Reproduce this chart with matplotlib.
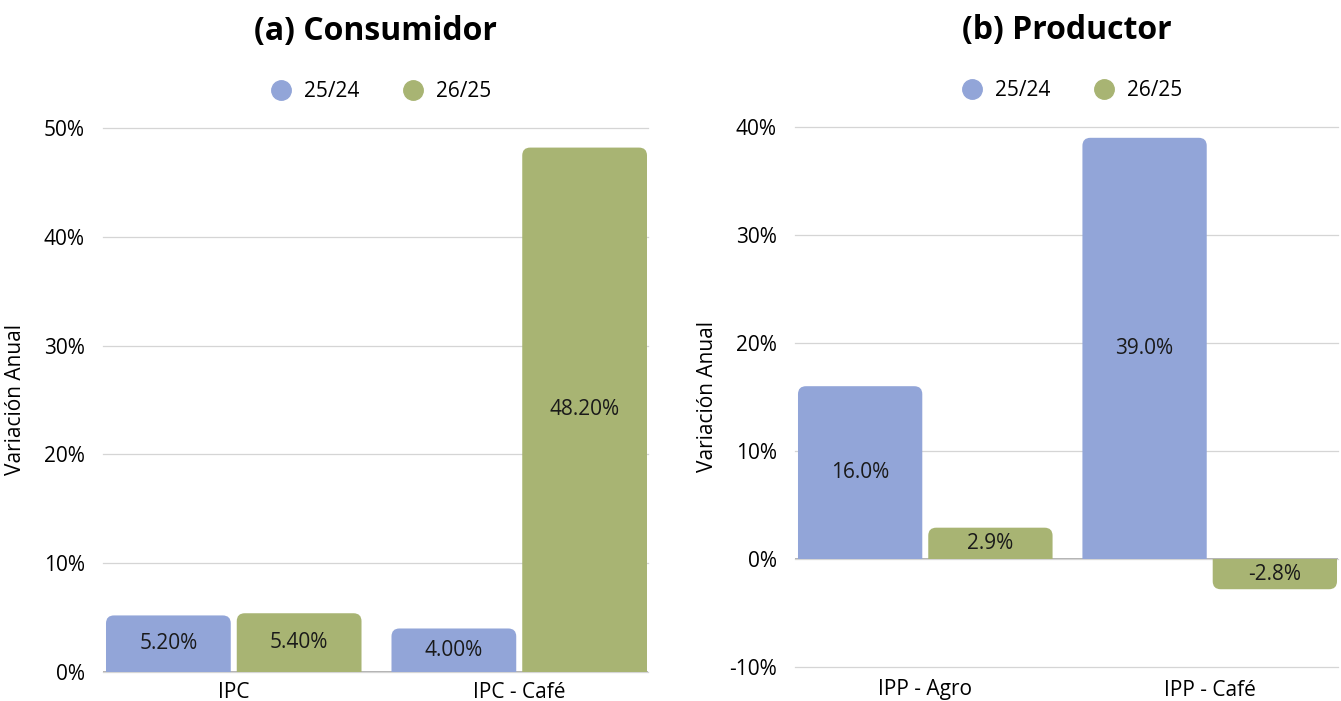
import numpy as np
import matplotlib.pyplot as plt
from matplotlib.patches import PathPatch
from matplotlib.path import Path
from matplotlib.lines import Line2D

plt.rcParams['font.family'] = ['Open Sans', 'DejaVu Sans']

series = ['25/24', '26/25']
colors = ['#92a5d8', '#a8b473']

cons_cats = ['IPC', 'IPC - Café']
cons_2524 = [5.20, 4.00]
cons_2625 = [5.40, 48.20]

prod_cats = ['IPP - Agro', 'IPP - Café']
prod_2524 = [16.0, 39.0]
prod_2625 = [2.9, -2.8]


def round_top(ax, bars, color, r_px=8):
    # swap square bars for ones with rounded outer corners
    ax.figure.canvas.draw()
    inv = ax.transData.inverted()
    p0 = inv.transform((0, 0))
    p1 = inv.transform((r_px, r_px))
    rx, ry = p1[0] - p0[0], p1[1] - p0[1]
    for b in bars:
        x, w, h = b.get_x(), b.get_width(), b.get_height()
        b.set_visible(False)
        r = ry if h >= 0 else -ry
        verts = [(x, 0), (x, h - r), (x, h), (x + rx, h), (x + w - rx, h),
                 (x + w, h), (x + w, h - r), (x + w, 0), (x, 0)]
        codes = [Path.MOVETO, Path.LINETO, Path.CURVE3, Path.CURVE3, Path.LINETO,
                 Path.CURVE3, Path.CURVE3, Path.LINETO, Path.CLOSEPOLY]
        ax.add_patch(PathPatch(Path(verts, codes), fc=color, ec='none', lw=0, zorder=2))


def panel(ax, cats, v1, v2, title, ylim, ticks, fmt, xpad):
    x = np.arange(len(cats))
    w = 0.437
    off = 0.229
    b1 = ax.bar(x - off, v1, w, color=colors[0], zorder=2)
    b2 = ax.bar(x + off, v2, w, color=colors[1], zorder=2)
    ax.set_xlim(-0.458, 1.451)
    ax.set_ylim(*ylim)
    ax.set_yticks(ticks)
    ax.set_yticklabels([f'{t}%' for t in ticks], fontsize=15)
    ax.set_xticks(x)
    ax.set_xticklabels(cats, fontsize=15)
    ax.tick_params(length=0, pad=13, axis='y')
    ax.tick_params(length=0, pad=xpad, axis='x')
    for s in ax.spines.values():
        s.set_visible(False)
    ax.grid(axis='y', color='#d5d5d5', lw=0.9, zorder=0)
    for gl in ax.get_ygridlines():
        gl.set_clip_on(False)
    ax.axhline(0, color='#9a9a9a', lw=1.1, zorder=1)
    ax.set_ylabel('Variación Anual', fontsize=15)
    ax.yaxis.set_label_coords(-0.141, 0.5)
    ax.set_title(title, fontsize=23, fontweight='bold', pad=63)
    round_top(ax, b1, colors[0])
    round_top(ax, b2, colors[1])
    for bars, vals in ((b1, v1), (b2, v2)):
        for b, v in zip(bars, vals):
            ax.text(b.get_x() + b.get_width() / 2, v / 2, fmt.format(v),
                    ha='center', va='center', fontsize=15, color='#1a1a1a', zorder=3)
    handles = [Line2D([], [], marker='o', ls='none', ms=14, color=c) for c in colors]
    ax.legend(handles, series, ncol=2, loc='center', bbox_to_anchor=(0.5, 1.067),
              frameon=False, fontsize=15, handletextpad=0.1, columnspacing=1.6)


fig = plt.figure(figsize=(13.41, 7.01), dpi=100)
ax1 = fig.add_axes([103 / 1341, 1 - 672 / 701, 545 / 1341, 544 / 701])
ax2 = fig.add_axes([795 / 1341, 1 - 667 / 701, 543 / 1341, 540 / 701])

panel(ax1, cons_cats, cons_2524, cons_2625, '(a) Consumidor', (0, 50),
      [0, 10, 20, 30, 40, 50], '{:.2f}%', 7)
panel(ax2, prod_cats, prod_2524, prod_2625, '(b) Productor', (-10, 40),
      [-10, 0, 10, 20, 30, 40], '{:.1f}%', 9)

fig.savefig('out.png', dpi=100)
